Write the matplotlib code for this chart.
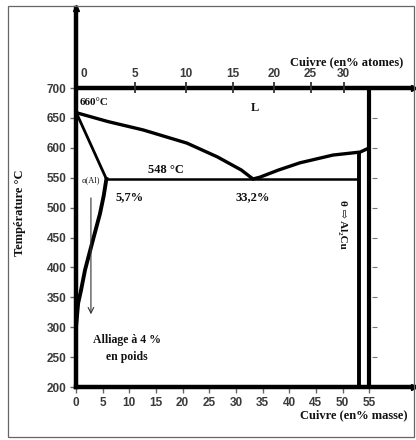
import matplotlib.pyplot as plt
from matplotlib.patches import Rectangle

liq_gauche_x = [0, 0.4, 6.0, 12.6, 20.8, 26.5, 31.0, 33.2]
liq_gauche_t = [660, 658, 644, 630, 608, 585, 563, 548]
liq_droite_x = [33.2, 34.5, 38.0, 42.0, 48.2, 53.3, 55.0]
liq_droite_t = [548, 551, 563, 575, 588, 593, 600]
solidus_x = [0, 5.7]
solidus_t = [660, 548]
solvus_x = [5.7, 5.2, 4.5, 3.9, 3.0, 1.7, 0.9, 0.4, 0.0]
solvus_t = [548, 520, 490, 470, 440, 396, 360, 340, 300]
eutectique_x = [5.7, 53.1]
eutectique_t = 548
theta_x = 53.1
theta_tmax = 593
limite_x = 55.0
alliage_x = 2.8
alliage_t = [521, 317]

x_ticks = list(range(0, 60, 5))
y_ticks = list(range(200, 750, 50))
droite_ticks = list(range(250, 700, 50))
# echelle en % atomes, placee sur l'echelle en % masse
at_labels = ['0', '5', '10', '15', '20', '25', '30']
at_pos = [0, 11.0, 20.7, 29.4, 37.1, 44.0, 50.2]

W, H = 416, 440
fig = plt.figure(figsize=(W / 100, H / 100), dpi=100)
fig.patches.append(Rectangle((8 / W, 3 / H), 406 / W, 431 / H, transform=fig.transFigure,
                             fill=False, edgecolor='#666666', lw=0.9))

ax = fig.add_axes([76 / W, (H - 387) / H, (414 - 76) / W, (387 - 8) / H])
ax.set_xlim(0, 63.4)
ax.set_ylim(200, 834)

serif = ['Liberation Serif', 'DejaVu Serif']
sans = 'Liberation Sans'

for s in ['top', 'right']:
    ax.spines[s].set_visible(False)
for s in ['left', 'bottom']:
    ax.spines[s].set_linewidth(3.2)
ax.plot(0, 1, '^k', ms=5, transform=ax.get_xaxis_transform(), clip_on=False)
ax.plot(1, 200, '>k', ms=5, transform=ax.get_yaxis_transform(), clip_on=False)

ax.set_xticks(x_ticks)
ax.set_yticks(y_ticks)
ax.tick_params(length=4, width=1, color='#666666', pad=3, labelcolor='#3a3a3a')
for lab in ax.get_xticklabels() + ax.get_yticklabels():
    lab.set_family(sans)
    lab.set_fontweight('bold')
    lab.set_fontsize(8.5)

# axe du haut (% atomes) a 700 degC
ax.plot([0, 63.4], [700, 700], color='k', lw=3.2, solid_capstyle='butt')
ax.plot(1, 700, '>k', ms=5, transform=ax.get_yaxis_transform(), clip_on=False)
ax.vlines(at_pos[1:], 691, 710, color='#333333', lw=1.3)
for p, lab in zip(at_pos, at_labels):
    ax.text(p + (1.4 if p == 0 else 0), 714, lab, ha='center', va='bottom',
            family=sans, fontweight='bold', fontsize=8.5, color='#3a3a3a')

# limite droite (55 %) et ses graduations
ax.vlines(limite_x, 200, 700, color='k', lw=3)
ax.hlines(droite_ticks, limite_x + 0.5, limite_x + 1.5, color='#777777', lw=0.8)

# courbes du diagramme
ax.plot(liq_gauche_x, liq_gauche_t, color='k', lw=2.4, solid_capstyle='round')
ax.plot(liq_droite_x, liq_droite_t, color='k', lw=2.4, solid_capstyle='round')
ax.plot(solidus_x, solidus_t, color='k', lw=2.0)
ax.plot(solvus_x, solvus_t, color='k', lw=2.8)
ax.hlines(eutectique_t, eutectique_x[0], eutectique_x[1], color='k', lw=1.8)
ax.vlines(theta_x, 200, theta_tmax, color='k', lw=2.8)

ax.annotate('', xy=(alliage_x, alliage_t[1]), xytext=(alliage_x, alliage_t[0]),
            arrowprops=dict(arrowstyle='->', lw=0.8, color='#333333'))

# textes
bold = dict(family=serif, fontweight='bold', color='#111111')
ax.text(0.75, 676, '660°C', ha='left', va='center', fontsize=8, **bold)
ax.text(33.6, 666, 'L', ha='center', va='center', fontsize=9, **bold)
ax.text(16.9, 563, '548 °C', ha='center', va='center', fontsize=9, **bold)
ax.text(10.0, 518, '5,7%', ha='center', va='center', fontsize=9, **bold)
ax.text(33.2, 518, '33,2%', ha='center', va='center', fontsize=9, **bold)
ax.text(2.8, 546, 'α(Al)', ha='center', va='center', fontsize=6, family=serif, color='#111111')
ax.text(9.5, 264, 'Alliage à 4 %\nen poids', ha='center', va='center', fontsize=8.5,
        linespacing=1.6, **bold)
ax.text(49.9, 472, 'θ ⇨ Al₂Cu', ha='center', va='center', rotation=-90, fontsize=8, **bold)
ax.text(61.3, 743, 'Cuivre (en% atomes)', ha='right', va='center', fontsize=9, **bold)
ax.text(62.1, 153, 'Cuivre (en% masse)', ha='right', va='center', fontsize=9,
        clip_on=False, **bold)
fig.text(20 / W, 1 - 213 / H, 'Température °C', rotation=90, ha='center', va='center',
         fontsize=9, **bold)

fig.savefig('out.png', dpi=100)
